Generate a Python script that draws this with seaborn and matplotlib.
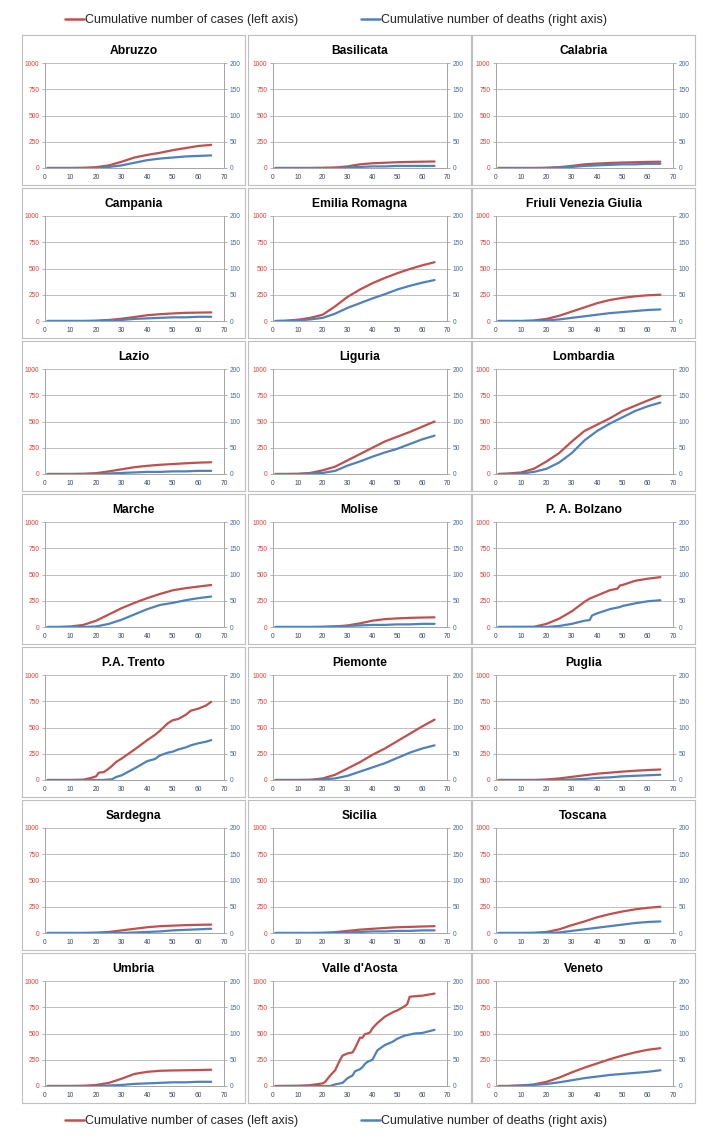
import matplotlib
matplotlib.use('Agg')
import matplotlib.pyplot as plt
import seaborn as sns
import pandas as pd
from matplotlib.lines import Line2D

regions = ["Abruzzo", "Basilicata", "Calabria",
           "Campania", "Emilia Romagna", "Friuli Venezia Giulia",
           "Lazio", "Liguria", "Lombardia",
           "Marche", "Molise", "P. A. Bolzano",
           "P.A. Trento", "Piemonte", "Puglia",
           "Sardegna", "Sicilia", "Toscana",
           "Umbria", "Valle d'Aosta", "Veneto"]

# common day grid
days = [1, 5, 10, 15, 20, 25, 30, 35, 40, 45, 50, 55, 60, 65]

# denser grids for the jagged series
days_bolzano = [1, 15, 20, 25, 30, 35, 37, 38, 40, 45, 48, 49, 50, 55, 60, 65]
days_trento = [1, 10, 15, 18, 20, 21, 23, 25, 26, 28, 30, 35, 40, 43, 45, 48, 50, 52, 55, 57, 60, 63, 65]
days_vda = [1, 10, 15, 20, 21, 23, 25, 27, 28, 30, 32, 33, 35, 36, 37, 38, 39, 40, 42, 45, 48,
            50, 53, 54, 55, 57, 60, 65]

# cumulative cases (left axis)
cases = {
    "Abruzzo": [0, 0, 0, 2, 8, 25, 60, 100, 125, 145, 170, 190, 210, 220],
    "Basilicata": [0, 0, 0, 0, 2, 5, 15, 35, 45, 50, 55, 58, 60, 62],
    "Calabria": [0, 0, 0, 0, 2, 8, 20, 35, 42, 48, 52, 55, 58, 60],
    "Campania": [0, 0, 0, 0, 3, 10, 22, 38, 55, 65, 72, 78, 80, 82],
    "Emilia Romagna": [0, 3, 12, 30, 60, 140, 230, 300, 360, 410, 455, 495, 530, 560],
    "Friuli Venezia Giulia": [0, 0, 0, 5, 20, 50, 90, 130, 170, 200, 220, 235, 245, 250],
    "Lazio": [0, 0, 0, 2, 8, 25, 45, 65, 78, 88, 95, 102, 108, 112],
    "Liguria": [0, 0, 2, 10, 35, 70, 130, 190, 250, 310, 355, 400, 450, 500],
    "Lombardia": [0, 5, 15, 50, 120, 200, 310, 410, 470, 530, 600, 650, 700, 745],
    "Marche": [0, 0, 5, 20, 60, 120, 180, 230, 275, 315, 350, 370, 385, 400],
    "Molise": [0, 0, 0, 0, 2, 5, 15, 35, 60, 75, 82, 87, 90, 92],
    "P. A. Bolzano": [0, 2, 30, 80, 150, 240, 270, 280, 300, 350, 365, 395, 400, 440, 460, 475],
    "P.A. Trento": [0, 0, 3, 20, 35, 70, 75, 110, 130, 175, 205, 290, 380, 430, 470, 540, 570,
                    580, 620, 660, 680, 710, 745],
    "Piemonte": [0, 0, 0, 2, 15, 50, 110, 170, 240, 300, 370, 440, 510, 575],
    "Puglia": [0, 0, 0, 0, 5, 15, 30, 45, 60, 70, 80, 88, 95, 100],
    "Sardegna": [0, 0, 0, 0, 3, 10, 25, 40, 55, 65, 70, 75, 78, 80],
    "Sicilia": [0, 0, 0, 0, 2, 8, 20, 32, 40, 48, 55, 58, 62, 65],
    "Toscana": [0, 0, 0, 2, 10, 35, 75, 110, 150, 180, 205, 225, 240, 250],
    "Umbria": [0, 0, 0, 2, 10, 30, 70, 115, 135, 145, 148, 150, 152, 155],
    "Valle d'Aosta": [0, 2, 8, 25, 40, 100, 150, 250, 290, 310, 320, 360, 460, 460, 495, 500,
                      510, 550, 600, 660, 700, 720, 760, 780, 850, 855, 860, 880],
    "Veneto": [0, 0, 5, 15, 40, 80, 130, 175, 215, 255, 290, 320, 345, 360],
}

# cumulative deaths (right axis)
deaths = {
    "Abruzzo": [0, 0, 0, 0, 0, 2, 5, 10, 15, 18, 20, 22, 23, 24],
    "Basilicata": [0, 0, 0, 0, 0, 0, 1, 2, 3, 3, 4, 4, 4, 4],
    "Calabria": [0, 0, 0, 0, 0, 1, 2, 4, 5, 6, 7, 7, 8, 8],
    "Campania": [0, 0, 0, 0, 0, 1, 2, 4, 5, 6, 7, 7, 8, 8],
    "Emilia Romagna": [0, 0, 1, 3, 6, 14, 25, 34, 43, 51, 60, 67, 73, 78],
    "Friuli Venezia Giulia": [0, 0, 0, 0, 1, 3, 6, 9, 12, 15, 17, 19, 21, 22],
    "Lazio": [0, 0, 0, 0, 0, 1, 2, 3, 4, 4, 5, 5, 6, 6],
    "Liguria": [0, 0, 0, 1, 2, 6, 16, 24, 33, 41, 48, 57, 66, 73],
    "Lombardia": [0, 0, 1, 4, 10, 22, 40, 64, 82, 96, 108, 120, 129, 136],
    "Marche": [0, 0, 0, 0, 1, 6, 14, 24, 34, 42, 46, 51, 55, 58],
    "Molise": [0, 0, 0, 0, 0, 1, 2, 3, 4, 4, 5, 5, 6, 6],
    "P. A. Bolzano": [0, 0, 0, 2, 6, 12, 13, 22, 26, 34, 37, 38, 40, 45, 49, 51],
    "P.A. Trento": [0, 0, 0, 0, 0, 0, 0, 1, 1, 6, 9, 22, 36, 40, 47, 52, 54, 58, 62, 66, 70,
                    73, 76],
    "Piemonte": [0, 0, 0, 0, 1, 3, 8, 16, 24, 32, 42, 52, 60, 66],
    "Puglia": [0, 0, 0, 0, 0, 0, 1, 2, 4, 5, 7, 8, 9, 10],
    "Sardegna": [0, 0, 0, 0, 0, 0, 0, 1, 2, 3, 5, 6, 7, 8],
    "Sicilia": [0, 0, 0, 0, 0, 0, 1, 2, 3, 3, 4, 4, 5, 5],
    "Toscana": [0, 0, 0, 0, 0, 1, 4, 7, 10, 13, 16, 19, 21, 22],
    "Umbria": [0, 0, 0, 0, 0, 1, 2, 4, 5, 6, 7, 7, 8, 8],
    "Valle d'Aosta": [0, 0, 0, 0, 0, 0, 3, 5, 6, 15, 20, 28, 32, 36, 42, 46, 48, 50, 68, 78, 84,
                      90, 96, 97, 98, 100, 101, 107],
    "Veneto": [0, 0, 1, 2, 4, 7, 11, 15, 18, 21, 23, 25, 27, 30],
}

region_days = {"P. A. Bolzano": days_bolzano, "P.A. Trento": days_trento,
               "Valle d'Aosta": days_vda}

legend_labels = ["Cumulative number of cases (left axis)",
                 "Cumulative number of deaths (right axis)"]

RED = '#C0504D'
BLUE = '#4F81BD'

sns.set_style('white')
plt.rcParams['font.family'] = ['Liberation Sans', 'DejaVu Sans']

W, H = 712, 1140
fig = plt.figure(figsize=(W / 100, H / 100), dpi=100)


def frac(x, y, w, h):
    # pixel box (top-left origin) -> figure fraction rect
    return [x / W, 1 - (y + h) / H, w / W, h / H]


box_left = [22, 248, 472]
plot_off = [23, 25, 24]
plot_w = [179, 174, 177]
box_w = 223
row_top0, row_step, box_h = 35, 153, 150

for i, name in enumerate(regions):
    r, c = divmod(i, 3)
    bx, by = box_left[c], row_top0 + r * row_step

    frame = fig.add_axes(frac(bx, by, box_w, box_h))
    frame.set_xticks([])
    frame.set_yticks([])
    for s in frame.spines.values():
        s.set_color('#BFBFBF')
        s.set_linewidth(0.8)
    frame.text(0.5, 0.895, name, transform=frame.transAxes, ha='center', va='center',
               fontsize=8.7, fontweight='bold', color='black')

    ax = fig.add_axes(frac(bx + plot_off[c], by + 28, plot_w[c], 105))
    ax.patch.set_alpha(0)
    ax2 = ax.twinx()

    d = region_days.get(name, days)
    df = pd.DataFrame({'day': d, 'cases': cases[name], 'deaths': deaths[name]})
    sns.lineplot(data=df, x='day', y='cases', ax=ax, color=RED, linewidth=1.6)
    sns.lineplot(data=df, x='day', y='deaths', ax=ax2, color=BLUE, linewidth=1.6)

    ax.set_xlim(0, 70)
    ax.set_ylim(0, 1000)
    ax2.set_ylim(0, 200)
    ax.set_xticks(range(0, 71, 10))
    ax.set_yticks([0, 250, 500, 750, 1000])
    ax2.set_yticks([0, 50, 100, 150, 200])
    ax.set_xlabel('')
    ax.set_ylabel('')
    ax2.set_ylabel('')
    ax.grid(axis='y', color='#BEBEBE', linewidth=0.7)
    ax.set_axisbelow(True)
    for a in (ax, ax2):
        for s in a.spines.values():
            s.set_color('#A6A6A6')
            s.set_linewidth(0.7)
        a.spines['top'].set_visible(False)
    ax.tick_params(axis='y', colors='#A6A6A6', labelcolor='#E0403A', labelsize=4.8, length=2.5,
                   width=0.6, pad=1.5)
    ax.tick_params(axis='x', colors='#A6A6A6', labelcolor='#3A4660', labelsize=4.8, length=2.5,
                   width=0.6, pad=1.5)
    ax2.tick_params(axis='y', colors='#A6A6A6', labelcolor='#4A6A98', labelsize=4.8, length=2.5,
                    width=0.6, pad=1.5)

handles = [Line2D([], [], color=RED, linewidth=1.8), Line2D([], [], color=BLUE, linewidth=1.8)]
for ypos in (1 - 20 / H, 1 - 1121 / H):
    fig.legend(handles, legend_labels, loc='center', bbox_to_anchor=(0.472, ypos), ncol=2,
               frameon=False, fontsize=9.0, handlelength=1.5, handletextpad=0.1,
               columnspacing=5.0)

fig.savefig('out.png', dpi=100, facecolor='white')
